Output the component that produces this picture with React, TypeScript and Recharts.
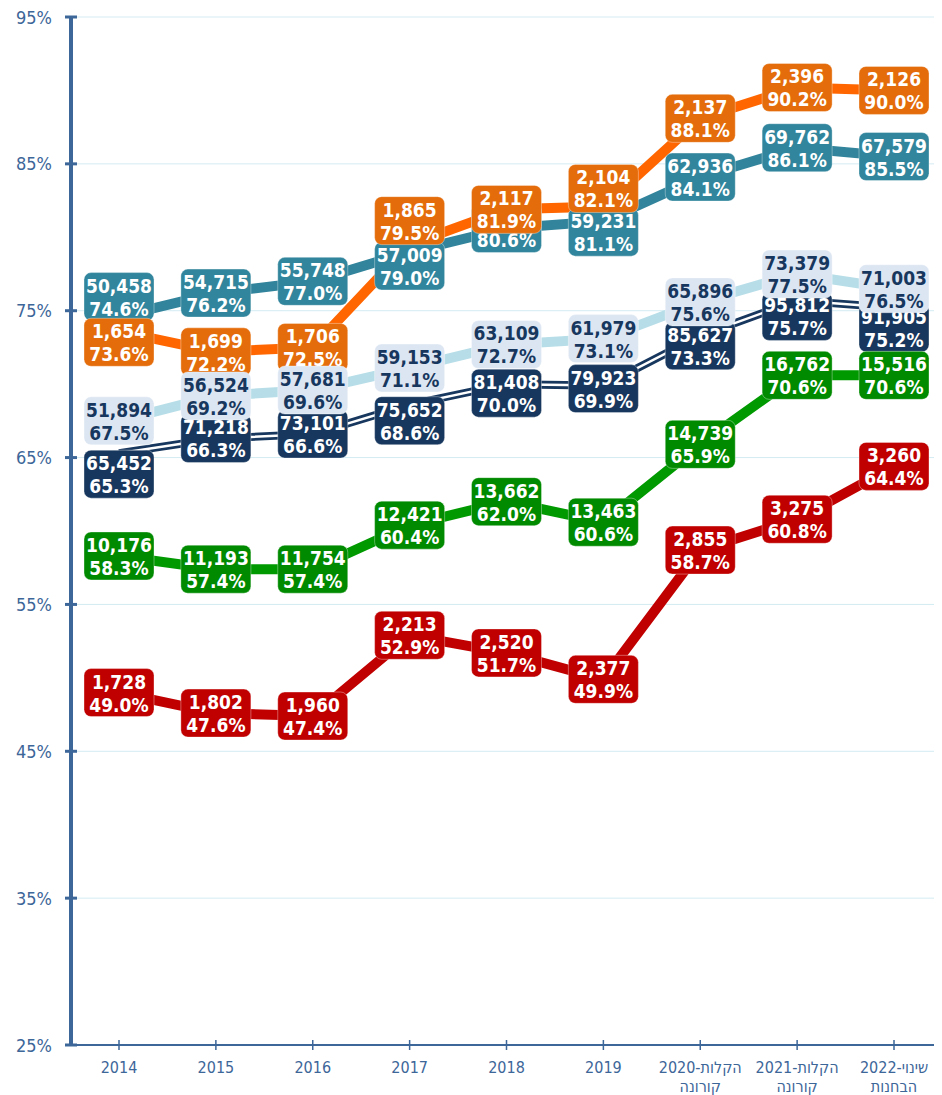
import { CartesianGrid, LabelList, Line, LineChart, XAxis, YAxis } from 'recharts';

const categories = [
  '2014',
  '2015',
  '2016',
  '2017',
  '2018',
  '2019',
  '2020-הקלות\nקורונה',
  '2021-הקלות\nקורונה',
  '2022-שינוי\nהבחנות',
];
const yTicks = [25, 35, 45, 55, 65, 75, 85, 95];

const orangeRate = [73.6, 72.2, 72.5, 79.5, 81.9, 82.1, 88.1, 90.2, 90.0];
const orangeCount = [1654, 1699, 1706, 1865, 2117, 2104, 2137, 2396, 2126];
const tealRate = [74.6, 76.2, 77.0, 79.0, 80.6, 81.1, 84.1, 86.1, 85.5];
const tealCount = [50458, 54715, 55748, 57009, 58322, 59231, 62936, 69762, 67579];
const lightRate = [67.5, 69.2, 69.6, 71.1, 72.7, 73.1, 75.6, 77.5, 76.5];
const lightCount = [51894, 56524, 57681, 59153, 63109, 61979, 65896, 73379, 71003];
const navyRate = [65.3, 66.3, 66.6, 68.6, 70.0, 69.9, 73.3, 75.7, 75.2];
const navyCount = [65452, 71218, 73101, 75652, 81408, 79923, 85627, 95812, 91905];
const greenRate = [58.3, 57.4, 57.4, 60.4, 62.0, 60.6, 65.9, 70.6, 70.6];
const greenCount = [10176, 11193, 11754, 12421, 13662, 13463, 14739, 16762, 15516];
const redRate = [49.0, 47.6, 47.4, 52.9, 51.7, 49.9, 58.7, 60.8, 64.4];
const redCount = [1728, 1802, 1960, 2213, 2520, 2377, 2855, 3275, 3260];

// vertical label shifts (px) where boxes were moved apart in the original
const orangeNudge = [11, 0, 0, -24, 0, -18, 0, 0, 0];
const tealNudge = [-20, 0, 0, 14, 0, 11, 0, 0, 0];
const navyNudge = [21, 0, 0, 16, 9, 3, 10, 16, 20];
const noNudge = [0, 0, 0, 0, 0, 0, 0, 0, 0];

const data = categories.map((name, i) => ({
  name,
  orange: orangeRate[i],
  teal: tealRate[i],
  light: lightRate[i],
  navy: navyRate[i],
  green: greenRate[i],
  red: redRate[i],
}));

const AXIS = '#3D6699';
const LABEL_FONT = "'DejaVu Sans Condensed', 'DejaVu Sans', sans-serif";

function makeLabel(counts: number[], nudges: number[], fill: string, color: string) {
  return (props: any) => {
    const { x, y, value, index } = props;
    const cy = Number(y) + (nudges[index] ?? 0);
    const textStyle = {
      fontFamily: LABEL_FONT,
      fontWeight: 700,
      fontSize: 19,
      fill: color,
    };
    return (
      <g>
        <rect
          x={x - 35}
          y={cy - 24}
          width={70}
          height={48}
          rx={7}
          fill={fill}
          stroke="rgba(255,255,255,0.35)"
          strokeWidth={1}
        />
        <text x={x} y={cy - 11} textAnchor="middle" dominantBaseline="central" style={textStyle}>
          {counts[index]?.toLocaleString('en-US')}
        </text>
        <text x={x} y={cy + 12} textAnchor="middle" dominantBaseline="central" style={textStyle}>
          {Number(value).toFixed(1)}%
        </text>
      </g>
    );
  };
}

function XTick({ x, y, payload }: any) {
  const lines = String(payload.value).split('\n');
  return (
    <g>
      <line x1={x} x2={x} y1={y - 5} y2={y + 5} stroke={AXIS} strokeWidth={1.5} />
      {lines.map((l, i) => (
        <text
          key={i}
          x={x}
          y={y + 22 + i * 19}
          textAnchor="middle"
          dominantBaseline="central"
          fill={AXIS}
          style={{ fontFamily: "'Liberation Sans Narrow', 'DejaVu Sans Condensed', sans-serif", fontSize: 16 }}
        >
          {l}
        </text>
      ))}
    </g>
  );
}

function YTick({ x, y, payload }: any) {
  return (
    <g>
      <line x1={x - 6} x2={x + 6} y1={y} y2={y} stroke={AXIS} strokeWidth={3} />
      <text
        x={x - 19}
        y={y}
        textAnchor="end"
        dominantBaseline="central"
        fill={AXIS}
        style={{ fontFamily: LABEL_FONT, fontSize: 18 }}
      >
        {payload.value}%
      </text>
    </g>
  );
}

export default function App() {
  return (
    <div style={{ width: 934, height: 1087 }}>
      <LineChart width={934} height={1087} data={data} margin={{ top: 9, right: 0, left: 0, bottom: 0 }}>
        <CartesianGrid vertical={false} stroke="#D3EBF3" strokeWidth={1} />
        <XAxis
          dataKey="name"
          height={50}
          interval={0}
          padding={{ left: 48, right: 48 }}
          tickSize={0}
          tickMargin={0}
          axisLine={{ stroke: AXIS, strokeWidth: 2 }}
          tickLine={false}
          tick={<XTick />}
        />
        <YAxis
          width={63}
          domain={[25, 95]}
          ticks={yTicks}
          interval={0}
          tickSize={0}
          tickMargin={0}
          axisLine={{ stroke: AXIS, strokeWidth: 4 }}
          tickLine={false}
          tick={<YTick />}
        />

        {/* lines */}
        <Line dataKey="teal" stroke="#31849B" strokeWidth={10} dot={false} isAnimationActive={false} />
        <Line dataKey="orange" stroke="#FF6600" strokeWidth={10} dot={false} isAnimationActive={false} />
        <Line dataKey="light" stroke="#B7DEE8" strokeWidth={10} dot={false} isAnimationActive={false} />
        <Line dataKey="navy" stroke="#17375E" strokeWidth={8} dot={false} isAnimationActive={false} />
        <Line dataKey="navy" stroke="#FFFFFF" strokeWidth={2.5} dot={false} isAnimationActive={false} />
        <Line dataKey="green" stroke="#009A00" strokeWidth={10} dot={false} isAnimationActive={false} />
        <Line dataKey="red" stroke="#C00000" strokeWidth={10} dot={false} isAnimationActive={false} />

        {/* labels, drawn above every line */}
        <Line dataKey="teal" stroke="none" dot={false} isAnimationActive={false}>
          <LabelList dataKey="teal" content={makeLabel(tealCount, tealNudge, '#31859C', '#FFFFFF')} />
        </Line>
        <Line dataKey="orange" stroke="none" dot={false} isAnimationActive={false}>
          <LabelList dataKey="orange" content={makeLabel(orangeCount, orangeNudge, '#E46C0A', '#FFFFFF')} />
        </Line>
        <Line dataKey="navy" stroke="none" dot={false} isAnimationActive={false}>
          <LabelList dataKey="navy" content={makeLabel(navyCount, navyNudge, '#17375E', '#FFFFFF')} />
        </Line>
        <Line dataKey="light" stroke="none" dot={false} isAnimationActive={false}>
          <LabelList dataKey="light" content={makeLabel(lightCount, noNudge, '#DCE6F2', '#17375E')} />
        </Line>
        <Line dataKey="green" stroke="none" dot={false} isAnimationActive={false}>
          <LabelList dataKey="green" content={makeLabel(greenCount, noNudge, '#008A00', '#FFFFFF')} />
        </Line>
        <Line dataKey="red" stroke="none" dot={false} isAnimationActive={false}>
          <LabelList dataKey="red" content={makeLabel(redCount, noNudge, '#C00000', '#FFFFFF')} />
        </Line>
      </LineChart>
    </div>
  );
}
